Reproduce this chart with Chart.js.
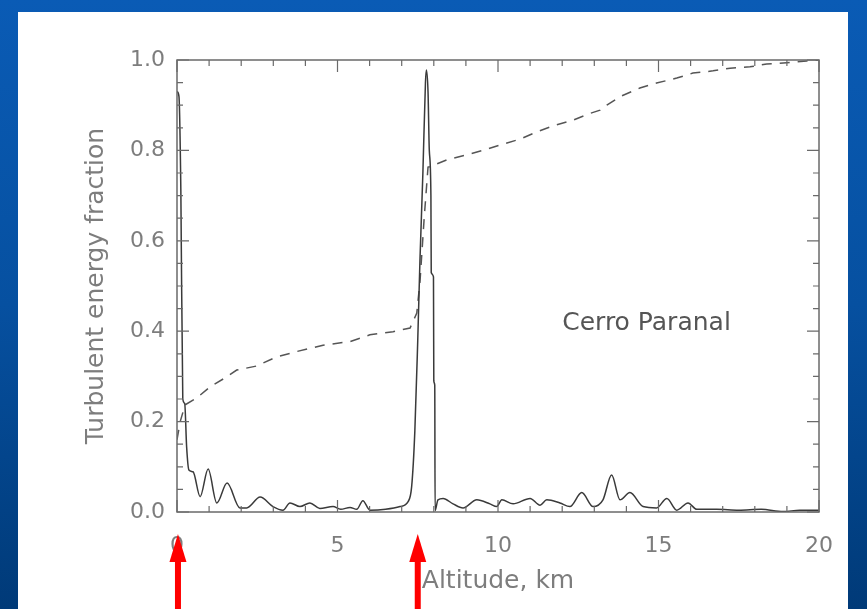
<!DOCTYPE html>
<html>
<head>
<meta charset="utf-8">
<script src="https://cdn.jsdelivr.net/npm/chart.js@4.4.1/dist/chart.umd.min.js"></script>
<style>
  html, body { margin: 0; padding: 0; width: 867px; height: 609px; overflow: hidden; }
  body { background: linear-gradient(180deg, #0a5bb5 0%, #0650a0 50%, #003a78 100%); position: relative; }
  #panel { position: absolute; left: 18px; top: 12px; width: 830px; height: 597px; background: #ffffff; }
  #c { position: absolute; left: 0; top: 0; }
</style>
</head>
<body>
<div id="panel"></div>
<canvas id="c" width="867" height="609"></canvas>
<script>
// ---- data ----
const profileAlt = [0.0, 0.06, 0.12, 0.18, 0.24, 0.30, 0.37, 0.50, 0.72, 0.97, 1.24, 1.56, 1.96, 2.17, 2.59, 2.99, 3.30, 3.52, 3.83, 4.14, 4.45, 4.86, 5.10, 5.39, 5.60, 5.79, 6.01, 6.50, 6.95, 7.20, 7.31, 7.41, 7.50, 7.57, 7.66, 7.74, 7.77, 7.82, 7.86, 7.91, 7.92, 7.99, 8.00, 8.03, 8.04, 8.13, 8.29, 8.60, 8.91, 9.34, 9.75, 9.96, 10.12, 10.47, 11.00, 11.31, 11.52, 11.93, 12.24, 12.61, 12.96, 13.27, 13.54, 13.80, 14.11, 14.52, 14.94, 15.26, 15.57, 15.92, 16.19, 16.81, 17.50, 18.20, 18.88, 19.40, 19.93, 20.0];
const profileVal = [0.93, 0.92, 0.71, 0.25, 0.24, 0.144, 0.093, 0.089, 0.034, 0.095, 0.020, 0.064, 0.009, 0.009, 0.033, 0.012, 0.004, 0.020, 0.012, 0.020, 0.008, 0.012, 0.006, 0.010, 0.006, 0.025, 0.004, 0.006, 0.012, 0.023, 0.056, 0.18, 0.38, 0.56, 0.75, 0.95, 0.978, 0.93, 0.80, 0.70, 0.53, 0.52, 0.29, 0.28, 0.003, 0.027, 0.030, 0.018, 0.009, 0.027, 0.018, 0.012, 0.027, 0.018, 0.030, 0.015, 0.027, 0.020, 0.012, 0.043, 0.012, 0.027, 0.082, 0.027, 0.043, 0.012, 0.009, 0.030, 0.004, 0.020, 0.006, 0.006, 0.004, 0.006, 0.001, 0.004, 0.004, 0.004];

const cumAlt = [0.0, 0.10, 0.25, 0.61, 1.03, 1.55, 1.86, 2.48, 3.10, 3.73, 4.55, 5.39, 6.01, 6.73, 7.26, 7.47, 7.57, 7.70, 7.82, 7.88, 8.40, 9.02, 9.53, 10.06, 10.69, 11.21, 11.71, 12.34, 12.87, 13.18, 13.39, 13.80, 14.42, 14.94, 15.57, 16.07, 16.70, 17.23, 17.85, 18.37, 18.99, 19.62, 20.0];
const cumVal = [0.16, 0.20, 0.237, 0.252, 0.277, 0.299, 0.314, 0.323, 0.343, 0.355, 0.369, 0.377, 0.392, 0.399, 0.407, 0.44, 0.51, 0.65, 0.763, 0.764, 0.779, 0.790, 0.800, 0.812, 0.825, 0.841, 0.854, 0.867, 0.882, 0.889, 0.900, 0.919, 0.938, 0.949, 0.960, 0.971, 0.976, 0.982, 0.985, 0.991, 0.994, 0.998, 1.0];

const xTickLabels = ['0', '5', '10', '15', '20'];
const yTickLabels = ['0.0', '0.2', '0.4', '0.6', '0.8', '1.0'];
const siteLabel = 'Cerro Paranal';
const siteLabelPos = [12.0, 0.416];
const arrowAlt = [0.03, 7.5];

const TEXT = '#7d7d7d';
const FONT = '"DejaVu Sans", sans-serif';

const profilePts = profileAlt.map((x, i) => ({x, y: profileVal[i]}));
const cumPts = cumAlt.map((x, i) => ({x, y: cumVal[i]}));

const decor = {
  id: 'decor',
  afterDatasetsDraw(chart) {
    const {ctx, chartArea: a, scales: {x, y}} = chart;
    ctx.save();
    ctx.strokeStyle = '#6a6a6a';
    ctx.lineWidth = 1.5;
    ctx.strokeRect(a.left, a.top, a.right - a.left, a.bottom - a.top);
    ctx.lineWidth = 1.2;
    for (let v = 0; v <= 20; v += 1) {
      const px = x.getPixelForValue(v);
      const len = (v % 5 === 0) ? 12 : 6;
      ctx.beginPath();
      ctx.moveTo(px, a.bottom); ctx.lineTo(px, a.bottom - len);
      ctx.moveTo(px, a.top); ctx.lineTo(px, a.top + len);
      ctx.stroke();
    }
    for (let k = 0; k <= 20; k++) {
      const v = k * 0.05;
      const py = y.getPixelForValue(v);
      const len = (k % 4 === 0) ? 12 : 6;
      ctx.beginPath();
      ctx.moveTo(a.left, py); ctx.lineTo(a.left + len, py);
      ctx.moveTo(a.right, py); ctx.lineTo(a.right - len, py);
      ctx.stroke();
    }
    ctx.fillStyle = '#555555';
    ctx.font = '25px ' + FONT;
    ctx.textAlign = 'left';
    ctx.textBaseline = 'middle';
    ctx.fillText(siteLabel, x.getPixelForValue(siteLabelPos[0]), y.getPixelForValue(siteLabelPos[1]));
    ctx.restore();
  },
  afterDraw(chart) {
    const {ctx, scales: {x}} = chart;
    ctx.save();
    ctx.fillStyle = '#ff0000';
    arrowAlt.forEach(v => {
      const px = x.getPixelForValue(v);
      const tip = 534, base = 562, bottom = 609;
      ctx.beginPath();
      ctx.moveTo(px, tip);
      ctx.lineTo(px + 8.5, base);
      ctx.lineTo(px - 8.5, base);
      ctx.closePath();
      ctx.fill();
      ctx.fillRect(px - 3, base - 2, 6, bottom - base + 2);
    });
    ctx.restore();
  }
};

new Chart(document.getElementById('c'), {
  type: 'line',
  data: {
    datasets: [
      { data: profilePts, borderColor: '#3a3a3a', borderWidth: 1.5, pointRadius: 0, cubicInterpolationMode: 'monotone', fill: false },
      { data: cumPts, borderColor: '#555555', borderWidth: 1.5, borderDash: [10, 8], pointRadius: 0, tension: 0, fill: false }
    ]
  },
  options: {
    responsive: false,
    animation: false,
    devicePixelRatio: 1,
    layout: { padding: { left: 0, top: 60, right: 48, bottom: 0 } },
    plugins: { legend: { display: false }, tooltip: { enabled: false } },
    scales: {
      x: {
        type: 'linear', min: 0, max: 20,
        grid: { display: false, drawTicks: false },
        border: { display: false },
        ticks: {
          stepSize: 5, padding: 21, color: TEXT, font: { family: FONT, size: 22 },
          maxRotation: 0,
          callback: (v, i) => xTickLabels[i]
        },
        title: { display: true, text: 'Altitude, km', color: TEXT, font: { family: FONT, size: 25 }, padding: { top: 0, bottom: 13 } },
        afterFit(s) { s.height = 97; }
      },
      y: {
        type: 'linear', min: 0, max: 1,
        grid: { display: false, drawTicks: false },
        border: { display: false },
        ticks: {
          stepSize: 0.2, padding: 12, color: TEXT, font: { family: FONT, size: 22 },
          callback: (v, i) => yTickLabels[i]
        },
        title: { display: true, text: 'Turbulent energy fraction', color: TEXT, font: { family: FONT, size: 25 }, padding: { top: 81, bottom: 0 } },
        afterFit(s) { s.width = 177; }
      }
    }
  },
  plugins: [decor]
});
</script>
</body>
</html>
